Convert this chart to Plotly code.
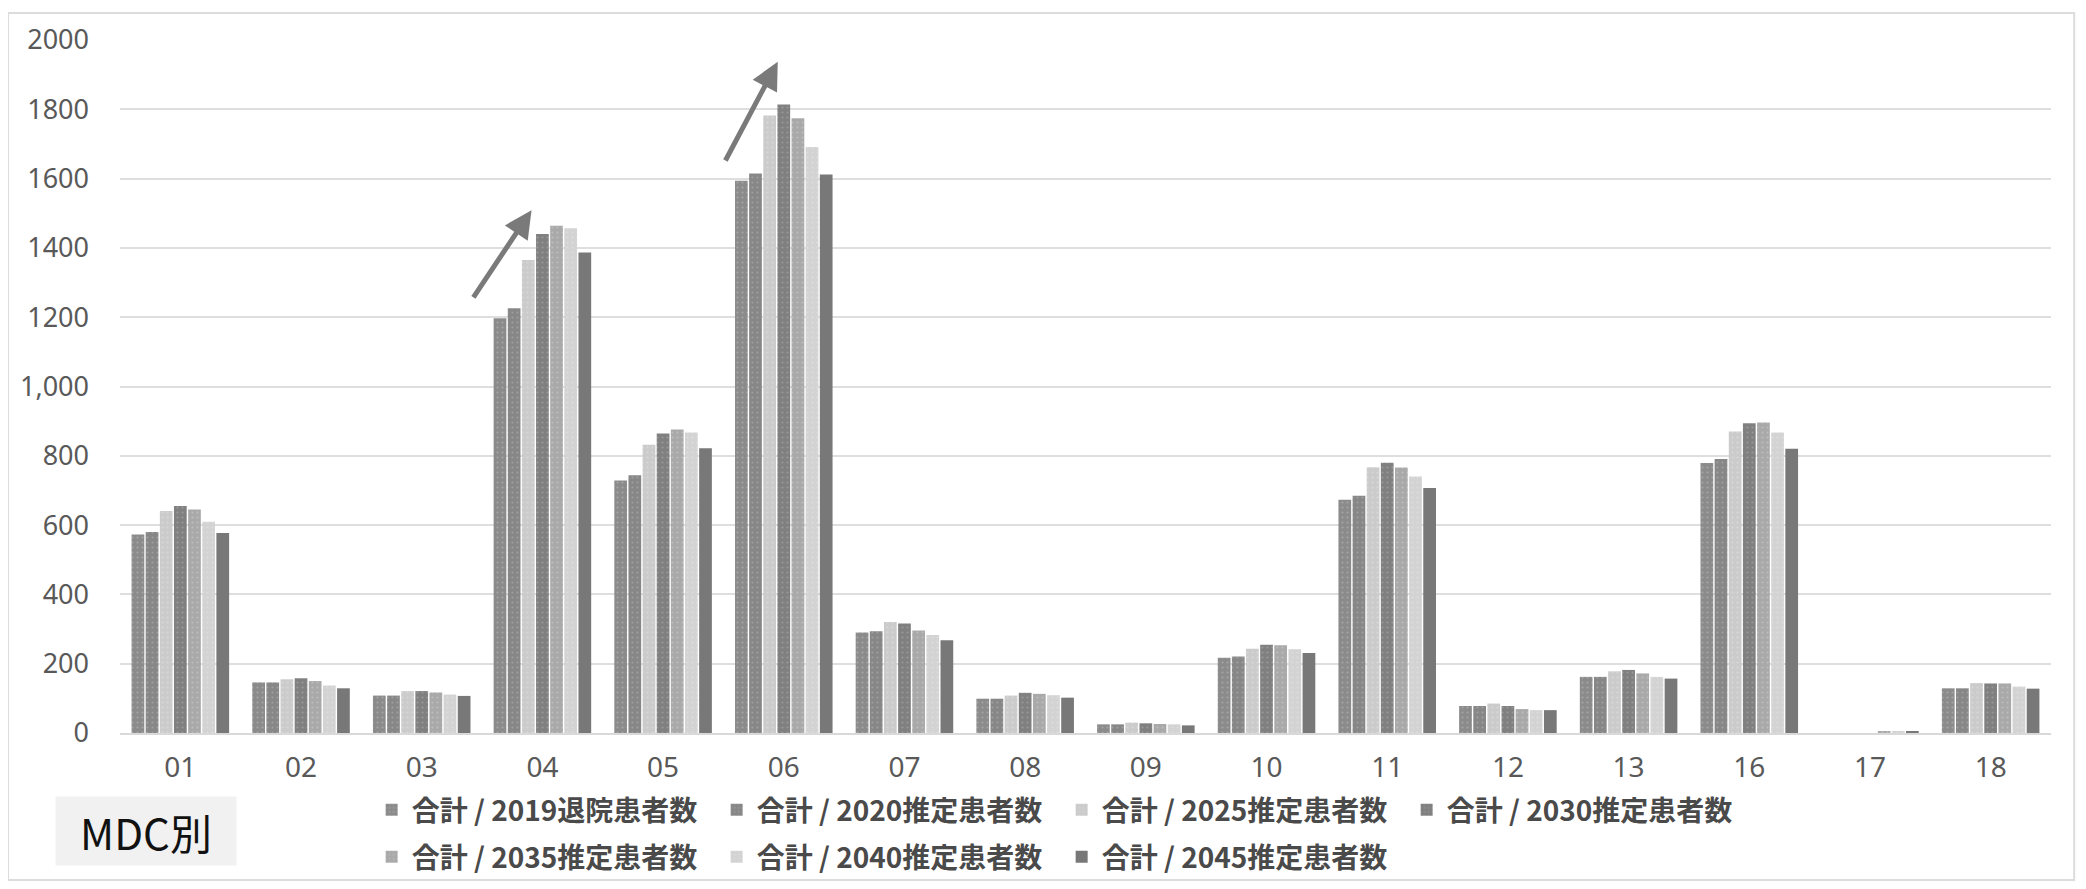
import plotly.graph_objects as go

categories = ["01", "02", "03", "04", "05", "06", "07", "08", "09", "10", "11", "12", "13", "16", "17", "18"]

series_names = [
    "合計 / 2019退院患者数",
    "合計 / 2020推定患者数",
    "合計 / 2025推定患者数",
    "合計 / 2030推定患者数",
    "合計 / 2035推定患者数",
    "合計 / 2040推定患者数",
    "合計 / 2045推定患者数",
]

v2019 = [573, 146, 108, 1197, 729, 1594, 290, 99, 25, 217, 673, 78, 162, 779, 0, 129]
v2020 = [580, 146, 108, 1226, 744, 1615, 294, 99, 25, 221, 685, 78, 162, 791, 0, 129]
v2025 = [641, 155, 121, 1365, 832, 1782, 320, 108, 30, 243, 767, 85, 178, 870, 0, 144]
v2030 = [655, 158, 121, 1440, 864, 1814, 316, 116, 28, 255, 780, 78, 182, 894, 0, 143]
v2035 = [645, 150, 117, 1464, 876, 1774, 296, 113, 26, 253, 766, 69, 172, 896, 3, 143]
v2040 = [610, 137, 111, 1457, 867, 1691, 283, 109, 25, 242, 740, 66, 162, 867, 4, 134]
v2045 = [577, 129, 107, 1387, 822, 1612, 268, 102, 22, 231, 707, 66, 157, 820, 3, 128]

values = [v2019, v2020, v2025, v2030, v2035, v2040, v2045]
colors = ["#8b8b8b", "#878787", "#cbcbcb", "#808080", "#a9a9a9", "#d3d3d3", "#787878"]
speckle = ["#bdbdbd", "#b5b5b5", "#e4e4e4", "#b0b0b0", "#cfcfcf", "#e6e6e6", None]
legend_ids = ["legend", "legend", "legend", "legend", "legend2", "legend2", "legend2"]

ytick_vals = [0, 200, 400, 600, 800, 1000, 1200, 1400, 1600, 1800, 2000]
ytick_text = ["0", "200", "400", "600", "800", "1,000", "1200", "1400", "1600", "1800", "2000"]

fig = go.Figure()
for name, vals, col, sp, lg in zip(series_names, values, colors, speckle, legend_ids):
    marker = dict(color=col, line=dict(width=0))
    if sp:
        marker["pattern"] = dict(shape=".", fgcolor=sp, size=5, solidity=0.15)
    fig.add_trace(go.Bar(x=categories, y=vals, name=name, marker=marker, legend=lg))

legend_font = dict(family="Noto Sans CJK JP", size=28, color="#4a4a4a", weight=700)

# the page body adds an 8px offset, so the figure is 8px smaller than the window
fig.update_layout(
    width=2078,
    height=881,
    barmode="group",
    bargap=0.18,
    bargroupgap=0.1,
    plot_bgcolor="white",
    paper_bgcolor="white",
    margin=dict(l=112, r=35, t=32, b=156, autoexpand=False),
    font=dict(family="Noto Sans", color="#595959"),
    xaxis=dict(
        type="category",
        automargin=False,
        showgrid=False,
        showline=True,
        linecolor="#d9d9d9",
        linewidth=2,
        tickfont=dict(size=28, color="#595959"),
        ticks="",
        ticklabelstandoff=8,
    ),
    yaxis=dict(
        range=[0, 2000],
        automargin=False,
        tickvals=ytick_vals,
        ticktext=ytick_text,
        showgrid=True,
        gridcolor="#dedede",
        gridwidth=2,
        zeroline=False,
        tickfont=dict(size=27, color="#595959"),
        ticklabelstandoff=30,
    ),
    legend=dict(
        orientation="h",
        xref="container", yref="container",
        x=0.175, xanchor="left",
        y=0.0897, yanchor="middle",
        font=legend_font,
        entrywidth=300,
        itemwidth=30,
        bgcolor="rgba(0,0,0,0)",
    ),
    legend2=dict(
        orientation="h",
        xref="container", yref="container",
        x=0.175, xanchor="left",
        y=0.0363, yanchor="middle",
        font=legend_font,
        entrywidth=300,
        itemwidth=30,
        bgcolor="rgba(0,0,0,0)",
    ),
    showlegend=True,
)

# Arrows highlighting growth in MDC 04 and 06
fig.add_annotation(
    x=2.91, y=1509, ax=2.42, ay=1253,
    xref="x", yref="y", axref="x", ayref="y",
    showarrow=True, arrowhead=2, arrowsize=1.1, arrowwidth=5, arrowcolor="#7a7a7a", text="",
)
fig.add_annotation(
    x=4.95, y=1937, ax=4.51, ay=1648,
    xref="x", yref="y", axref="x", ayref="y",
    showarrow=True, arrowhead=2, arrowsize=1.1, arrowwidth=5, arrowcolor="#7a7a7a", text="",
)

# "MDC別" label box
fig.add_annotation(
    x=0.0135, y=-0.1414, xref="paper", yref="paper",
    text="MDC別", showarrow=False,
    font=dict(family="Noto Sans CJK JP", size=42, color="#111111"),
    bgcolor="#f1f1f1", width=178, height=66,
    xanchor="center", yanchor="middle",
)

# faint outer frame
fig.add_shape(
    type="rect", xref="paper", yref="paper",
    x0=-0.058, x1=1.012, y0=-0.212, y1=1.039,
    line=dict(color="#dcdcdc", width=2), fillcolor="rgba(0,0,0,0)", layer="below",
)

fig.write_html("out.html")
